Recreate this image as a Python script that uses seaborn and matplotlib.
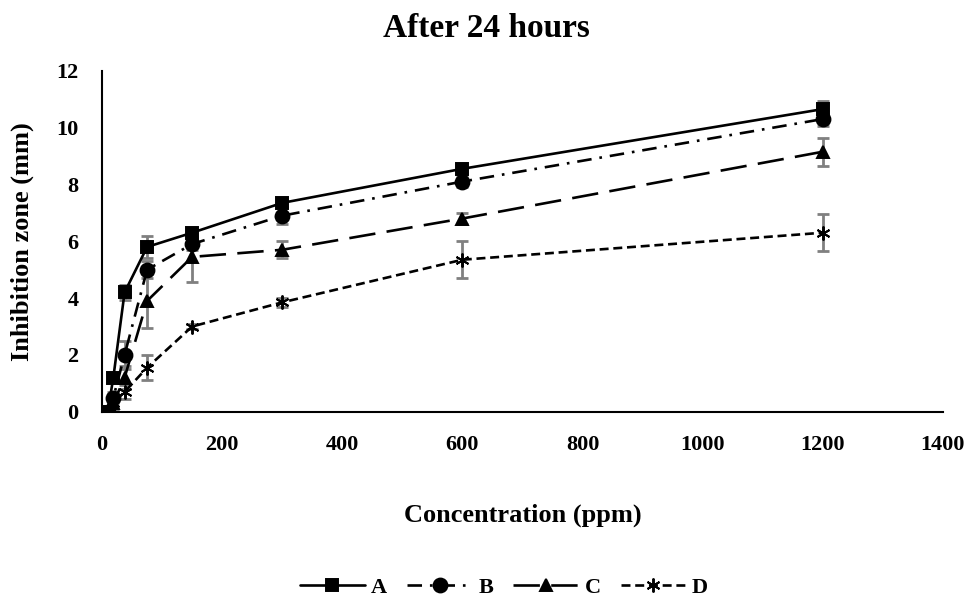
import numpy as np
import pandas as pd
import matplotlib
matplotlib.use("Agg")
import matplotlib.pyplot as plt
import seaborn as sns

conc = [9.375, 18.75, 37.5, 75, 150, 300, 600, 1200]
series_names = ["A", "B", "C", "D"]
vals_A = [0.0, 1.2, 4.2, 5.8, 6.3, 7.35, 8.55, 10.65]
vals_B = [0.0, 0.5, 2.0, 5.0, 5.9, 6.9, 8.1, 10.3]
vals_C = [0.0, 0.3, 1.2, 3.9, 5.45, 5.7, 6.8, 9.15]
vals_D = [0.05, 0.3, 0.7, 1.55, 3.0, 3.85, 5.35, 6.3]
err_A = [0.05, 0.15, 0.25, 0.4, 0.15, 0.15, 0.15, 0.3]
err_B = [0.05, 0.2, 0.5, 0.3, 0.2, 0.3, 0.2, 0.25]
err_C = [0.05, 0.2, 0.4, 0.95, 0.9, 0.3, 0.2, 0.5]
err_D = [0.05, 0.2, 0.25, 0.45, 0.1, 0.15, 0.65, 0.65]

vals = {"A": vals_A, "B": vals_B, "C": vals_C, "D": vals_D}
errs = {"A": err_A, "B": err_B, "C": err_C, "D": err_D}

rows = []
for s in series_names:
    for x, y, e in zip(conc, vals[s], errs[s]):
        rows.append({"Concentration": x, "Zone": y, "err": e, "Series": s})
df = pd.DataFrame(rows)

sns.set_theme(style="white")
plt.rcParams['font.family'] = ['Liberation Serif', 'DejaVu Serif']
plt.rcParams['font.weight'] = 'bold'
plt.rcParams['text.color'] = 'black'
plt.rcParams['axes.labelcolor'] = 'black'
plt.rcParams['xtick.color'] = 'black'
plt.rcParams['ytick.color'] = 'black'

fig = plt.figure(figsize=(9.72, 6.10), dpi=100)
ax = fig.add_axes([0.105, 0.325, 0.865, 0.559])

# error bars
for s in series_names:
    sub = df[df.Series == s]
    ax.errorbar(sub.Concentration, sub.Zone, yerr=sub.err, fmt='none',
                ecolor='#808080', elinewidth=2.0, capsize=4.5, capthick=2.0, zorder=1)

markers = {"A": "s", "B": "o", "C": "^", "D": (6, 2, 0)}
linestyles = {"A": "-", "B": (0, (5.5, 3.0, 1.0, 3.0)), "C": (0, (10, 4.3)), "D": (0, (3.4, 1.8))}
msizes = {"A": 9, "B": 10, "C": 9, "D": 10}

for s in series_names:
    sub = df[df.Series == s]
    sns.lineplot(data=sub, x="Concentration", y="Zone", color="black",
                 marker=markers[s], linestyle=linestyles[s], linewidth=1.9,
                 markersize=msizes[s], markeredgecolor="black", markerfacecolor="black",
                 markeredgewidth=1.4, ax=ax, zorder=3, label=s, sort=False)

ax.set_xlim(0, 1400)
ax.set_ylim(0, 12)
ax.set_xticks(np.arange(0, 1401, 200))
ax.set_yticks(np.arange(0, 13, 2))
ax.tick_params(axis='x', labelsize=16, length=0, pad=17)
ax.tick_params(axis='y', labelsize=16, length=0, pad=17)
for lab in ax.get_xticklabels() + ax.get_yticklabels():
    lab.set_fontweight('bold')
for sp in ["top", "right"]:
    ax.spines[sp].set_visible(False)
for sp in ["left", "bottom"]:
    ax.spines[sp].set_color("black")
    ax.spines[sp].set_linewidth(1.5)
ax.grid(False)

ax.set_xlabel("Concentration (ppm)", fontsize=19, fontweight='bold', labelpad=35)
ax.set_ylabel("Inhibition zone (mm)", fontsize=19, fontweight='bold', labelpad=16)
fig.text(0.5, 0.954, "After 24 hours", ha='center', va='center', fontsize=24, fontweight='bold')

handles, labels = ax.get_legend_handles_labels()
leg = ax.legend(handles, labels, loc='center', bbox_to_anchor=(0.478, -0.515), ncol=4,
                frameon=False, handlelength=2.9, columnspacing=0.9,
                handletextpad=0.3, prop={'weight': 'bold', 'size': 16})

fig.savefig("out.png", dpi=100)
